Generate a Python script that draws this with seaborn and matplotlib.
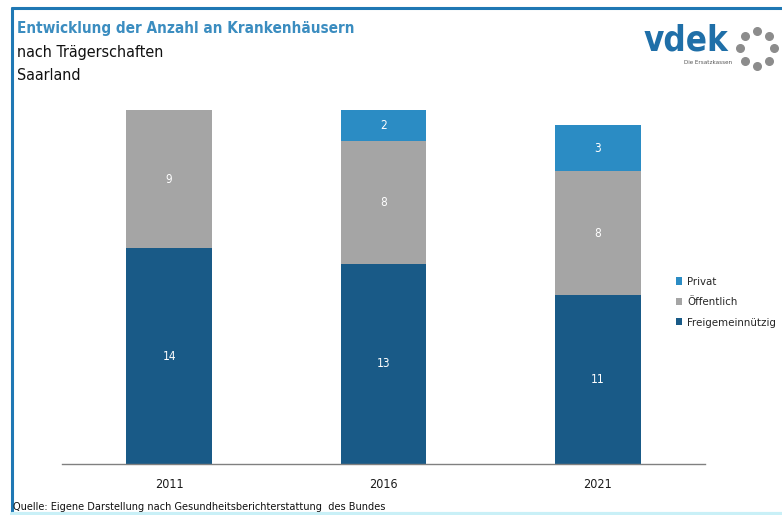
import matplotlib
matplotlib.use('Agg')

import matplotlib.pyplot as plt
import seaborn as sns
import pandas as pd
import numpy as np
from matplotlib.lines import Line2D
from matplotlib.patches import Patch

years = ["2011", "2016", "2021"]
freigemeinnuetzig = [14, 13, 11]
oeffentlich = [9, 8, 8]
privat = [0, 2, 3]

series_names = ["Privat", "Öffentlich", "Freigemeinnützig"]
colors = {"Privat": "#2b8cc4", "Öffentlich": "#a5a5a5", "Freigemeinnützig": "#195a87"}

sns.set_style("white")
plt.rcParams['font.family'] = ['DejaVu Sans']
plt.rcParams['font.stretch'] = 'condensed'

df = pd.DataFrame({
    "Jahr": years,
    "Freigemeinnützig": freigemeinnuetzig,
    "Öffentlich": oeffentlich,
    "Privat": privat,
})
df["bis_oeff"] = df["Freigemeinnützig"] + df["Öffentlich"]
df["gesamt"] = df["bis_oeff"] + df["Privat"]

fig = plt.figure(figsize=(7.82, 5.15), dpi=100)
ax = fig.add_axes([0.0793, 0.099, 0.8222, 0.7476])

# stacked look: draw cumulative totals, tallest first
for col, key in [("gesamt", "Privat"), ("bis_oeff", "Öffentlich"),
                 ("Freigemeinnützig", "Freigemeinnützig")]:
    sns.barplot(data=df, x="Jahr", y=col, color=colors[key], width=0.4,
                saturation=1, linewidth=0, edgecolor="none", ax=ax)

# segment labels
for i in range(len(years)):
    f = freigemeinnuetzig[i]
    o = oeffentlich[i]
    p = privat[i]
    ax.text(i, f / 2, str(f), ha="center", va="center", color="white", fontsize=8.5)
    ax.text(i, f + o / 2, str(o), ha="center", va="center", color="white", fontsize=8.5)
    if p > 0:
        ax.text(i, f + o + p / 2, str(p), ha="center", va="center", color="white", fontsize=8.5)

ax.set_xlim(-0.5, 2.5)
ax.set_ylim(0, 25)
ax.set_xlabel("")
ax.set_ylabel("")
ax.set_yticks([])
for s in ["top", "right", "left"]:
    ax.spines[s].set_visible(False)
ax.spines["bottom"].set_color("#808080")
ax.spines["bottom"].set_linewidth(1)
ax.set_xticks([-0.5, 0.5, 1.5, 2.5], minor=True)
ax.tick_params(axis="x", which="major", length=0, pad=10, labelsize=9, labelcolor="#1a1a1a")
ax.tick_params(axis="x", which="minor", length=5, color="#808080", direction="out")

handles = [Patch(facecolor=colors[n], edgecolor="none") for n in series_names]
leg = fig.legend(handles, series_names, loc="center left", bbox_to_anchor=(0.864, 0.413),
                 frameon=False, fontsize=8.2, handlelength=0.6, handleheight=0.6,
                 handletextpad=0.4, labelspacing=0.9, borderaxespad=0, borderpad=0)

# titles
fig.text(0.022, 0.945, "Entwicklung der Anzahl an Krankenhäusern", color="#3b8dc0",
         fontsize=11, fontweight="bold", va="center")
fig.text(0.022, 0.898, "nach Trägerschaften", color="#111111", fontsize=11.5, va="center")
fig.text(0.022, 0.854, "Saarland", color="#111111", fontsize=11.5, va="center")
fig.text(0.017, 0.016, "Quelle: Eigene Darstellung nach Gesundheitsberichterstattung  des Bundes",
         color="#111111", fontsize=7.8, va="center")

# logo
fig.text(0.823, 0.922, "vdek", color="#1f6fa8", fontsize=25, fontweight="bold",
         ha="left", va="center")
fig.text(0.905, 0.879, "Die Ersatzkassen", color="#555555", fontsize=4.5, ha="center", va="center")
lax = fig.add_axes([0.938, 0.856, 0.060, 0.100])
ang = np.linspace(0, 2 * np.pi, 9)[:-1]
lax.scatter(np.cos(ang), np.sin(ang), s=30, color="#8c8c8c", marker="o")
lax.set_xlim(-1.35, 1.35)
lax.set_ylim(-1.35, 1.35)
lax.set_aspect("equal")
lax.axis("off")

# frame lines
fig.add_artist(Line2D([0.0153, 0.0153], [0.0, 0.985], color="#1f78b4", lw=2.2))
fig.add_artist(Line2D([0.0153, 1.0], [0.985, 0.985], color="#1f78b4", lw=2.2))
fig.add_artist(Line2D([0.0153, 1.0], [0.002, 0.002], color="#c9f0f7", lw=3))

fig.savefig("out.png", dpi=100, facecolor="white")
